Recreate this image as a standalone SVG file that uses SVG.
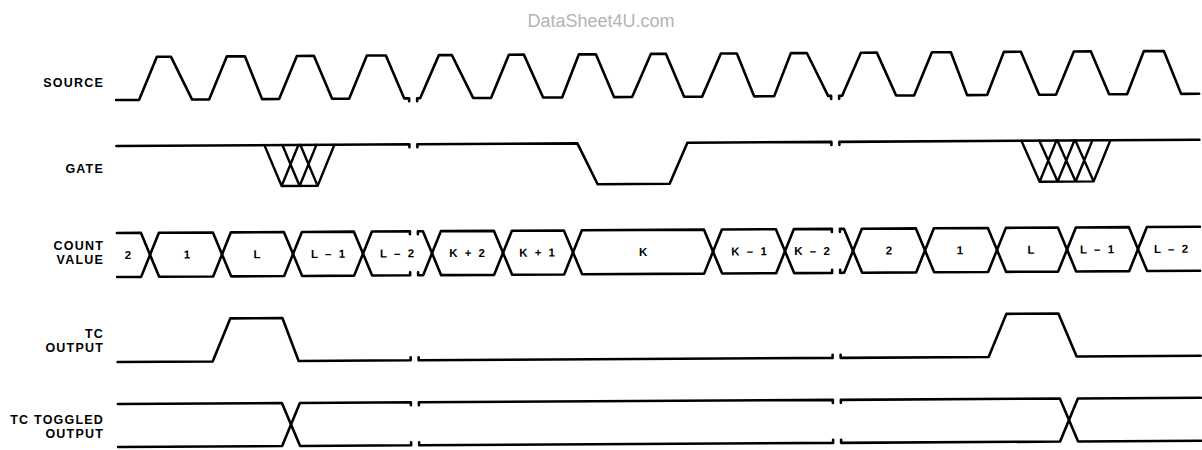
<svg xmlns="http://www.w3.org/2000/svg" width="1202" height="450" viewBox="0 0 1202 450">
<style>
.w{fill:none;stroke:#000;stroke-width:2.6;stroke-linejoin:round;stroke-linecap:round}
.h{fill:none;stroke:#000;stroke-width:2.4;stroke-linecap:round;stroke-linejoin:round}
.lbl{font-family:"Liberation Sans",Arial,sans-serif;font-weight:bold;font-size:12.5px;letter-spacing:1.2px;fill:#000;text-anchor:end}
.cv{font-family:"Liberation Sans",Arial,sans-serif;font-weight:bold;font-size:11.5px;fill:#000;text-anchor:middle;letter-spacing:2px}
.wm{font-family:"Liberation Sans",Arial,sans-serif;font-size:18px;fill:#b4b4b4;text-anchor:middle}
</style>
<rect width="1202" height="450" fill="#fff"/>
<text class="wm" x="601" y="27">DataSheet4U.com</text>
<g id="labels">
<text class="lbl" x="104" y="87">SOURCE</text>
<text class="lbl" x="104" y="173">GATE</text>
<text class="lbl" x="104" y="250">COUNT</text>
<text class="lbl" x="104" y="264">VALUE</text>
<text class="lbl" x="104" y="338">TC</text>
<text class="lbl" x="104" y="352">OUTPUT</text>
<text class="lbl" x="104" y="424">TC TOGGLED</text>
<text class="lbl" x="104" y="438">OUTPUT</text>
</g>
<g transform="rotate(-0.33 117 250)">
<g id="source">
<path class="w" d="M117,100 H140 L158,57 H172 L193,100 H210 L228,57 H246 L263,100 H280 L298,57 H315 L333,100 H350 L368,57 H387 L405,100 H410 V103"/>
<path class="w" d="M418,103 V100 H421 L440,57 H453 L474,100 H492 L510,57 H525 L544,100 H563 L580,57 H597 L615,100 H633 L652,57 H667 L685,100 H703 L722,57 H738 L755,100 H775 L792,57 H808 L829,100 H832 V103"/>
<path class="w" d="M840,103 V100 H843 L862,57 H878 L897,100 H915 L933,57 H952 L968,100 H988 L1005,57 H1022 L1040,100 H1057 L1075,57 H1092 L1110,100 H1128 L1145,57 H1165 L1182,100 H1200"/>
</g>
<g id="gate">
<path class="w" d="M117,146 H410 V149"/>
<path class="w" d="M418,149 V146 H578 L598,187 H670 L688,146 H832 V149"/>
<path class="w" d="M840,149 V146 H1200"/>
<path class="h" d="M265,146 L282,187 H318 L335,146 M283,146 L300,187 M301,146 L318,187 M282,187 L299,146 M300,187 L317,146"/>
<path class="h" d="M1022,146 L1040,187 H1094 L1111,146 M1040,146 L1058,187 M1058,146 L1076,187 M1076,146 L1094,187 M1040,187 L1057,146 M1058,187 L1075,146 M1076,187 L1093,146"/>
</g>
<g id="count">
<path class="w" d="M117,233 H141 L159,277 H213 L231,233 H284 L302,277 H354 L372,233 H410 V236"/>
<path class="w" d="M117,277 H141 L159,233 H213 L231,277 H284 L302,233 H354 L372,277 H410 V274"/>
<path class="w" d="M418,236 V233 H423 L441,277 H494 L512,233 H564 L582,277 H704 L722,233 H776 L794,277 H832 V274"/>
<path class="w" d="M418,274 V277 H423 L441,233 H494 L512,277 H564 L582,233 H704 L722,277 H776 L794,233 H832 V236"/>
<path class="w" d="M840,274 V277 H844 L862,233 H916 L934,277 H988 L1006,233 H1058 L1076,277 H1129 L1147,233 H1200"/>
<path class="w" d="M840,236 V233 H844 L862,277 H916 L934,233 H988 L1006,277 H1058 L1076,233 H1129 L1147,277 H1200"/>
<text class="cv" x="129" y="259">2</text>
<text class="cv" x="188" y="259">1</text>
<text class="cv" x="258" y="259">L</text>
<text class="cv" x="329" y="259">L – 1</text>
<text class="cv" x="398" y="259">L – 2</text>
<text class="cv" x="468" y="259">K + 2</text>
<text class="cv" x="538" y="259">K + 1</text>
<text class="cv" x="644" y="259">K</text>
<text class="cv" x="750" y="259">K – 1</text>
<text class="cv" x="813" y="259">K – 2</text>
<text class="cv" x="890" y="259">2</text>
<text class="cv" x="961" y="259">1</text>
<text class="cv" x="1032" y="259">L</text>
<text class="cv" x="1098" y="259">L – 1</text>
<text class="cv" x="1172" y="259">L – 2</text>
</g>
<g id="tc-output">
<path class="w" d="M117,362 H212 L230,319 H282 L298,362 H410 V359"/>
<path class="w" d="M418,359 V362 H832 V359"/>
<path class="w" d="M840,359 V362 H988 L1006,319 H1058 L1076,362 H1200"/>
</g>
<g id="tc-toggled-output">
<path class="w" d="M117,404 H281 L299,447 H410 V444"/>
<path class="w" d="M117,447 H281 L299,404 H410 V407"/>
<path class="w" d="M418,407 V404 H832 V407"/>
<path class="w" d="M418,444 V447 H832 V444"/>
<path class="w" d="M840,407 V404 H1059 L1077,447 H1200"/>
<path class="w" d="M840,444 V447 H1059 L1077,404 H1200"/>
</g>
</g>
</svg>
